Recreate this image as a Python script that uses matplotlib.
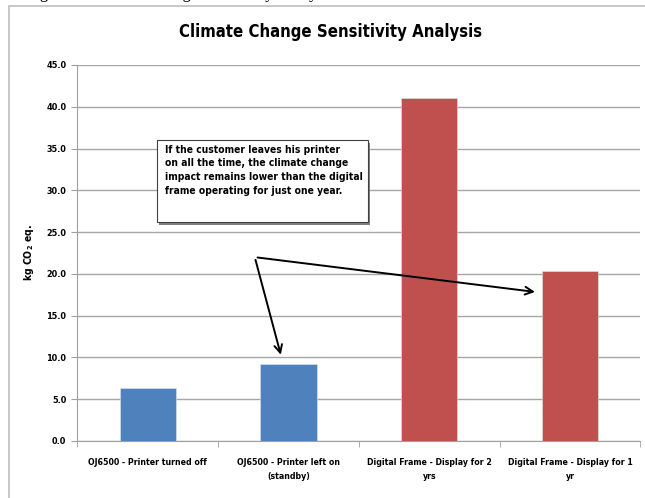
import matplotlib
matplotlib.use('Agg')
import matplotlib.pyplot as plt
from matplotlib.patches import Rectangle

plt.rcParams['font.family'] = ['DejaVu Sans']
plt.rcParams['font.stretch'] = 'condensed'
plt.rcParams['font.weight'] = 'bold'

categories = ['OJ6500 - Printer turned off',
              'OJ6500 - Printer left on\n(standby)',
              'Digital Frame - Display for 2\nyrs',
              'Digital Frame - Display for 1\nyr']
values = [6.3, 9.2, 41.0, 20.4]
colors = ['#4f81bd', '#4f81bd', '#c0504d', '#c0504d']
yticks = [0, 5, 10, 15, 20, 25, 30, 35, 40, 45]
note = ('If the customer leaves his printer\n'
        'on all the time, the climate change\n'
        'impact remains lower than the digital\n'
        'frame operating for just one year.')

fig = plt.figure(figsize=(6.45, 4.98), dpi=100)
ax = fig.add_axes([0.120, 0.1145, 0.873, 0.755])

# outer chart frame
fig.patches.append(Rectangle((9 / 645, -0.01), 0.995 - 9 / 645 + 0.01, 1 - 6 / 498 + 0.01,
                             transform=fig.transFigure, fill=False,
                             edgecolor='#bfbfbf', linewidth=1.2, zorder=0))

# caption line above the frame, only its lower edge shows
fig.text(0.04, 1.004, 'Figure 6: Climate Change Sensitivity Analysis', family='Liberation Serif',
         fontweight='normal', fontstretch='normal', fontsize=12, va='baseline', ha='left')

x = range(len(values))
ax.bar(x, values, width=0.4, color=colors, edgecolor='#dce6f2', linewidth=0.4, zorder=3)

ax.set_xlim(-0.5, len(values) - 0.5)
ax.set_ylim(0, 45)
ax.set_yticks(yticks)
ax.set_yticklabels([f'{v:.1f}' for v in yticks], fontsize=6.5, fontweight='bold')
ax.set_xticks(list(x))
ax.set_xticklabels(categories, fontsize=6.3, fontweight='bold', linespacing=1.8)
ax.set_xticks([i + 0.5 for i in range(-1, len(values))], minor=True)
ax.tick_params(axis='x', which='major', length=0, pad=12)
ax.tick_params(axis='x', which='minor', length=4, color='#a0a0a0')
ax.tick_params(axis='y', length=4, color='#a0a0a0', pad=4)

ax.grid(axis='y', color='#a6a6a6', linewidth=1, zorder=0)
ax.set_axisbelow(True)
for s in ['top', 'right']:
    ax.spines[s].set_visible(False)
for s in ['left', 'bottom']:
    ax.spines[s].set_color('#a0a0a0')

ax.set_ylabel('kg CO$_2$ eq.', fontsize=7.5, fontweight='bold', labelpad=7)
fig.text(0.512, 0.935, 'Climate Change Sensitivity Analysis', ha='center', va='center',
         fontsize=12, fontweight='bold')

# callout box with arrows
ax.add_patch(Rectangle((0.078, 25.9), 1.5, 9.8, facecolor='#7f7f7f', edgecolor='none', zorder=5))
ax.add_patch(Rectangle((0.065, 26.2), 1.5, 9.8, facecolor='white', edgecolor='#404040',
                       linewidth=0.8, zorder=6))
ax.text(0.12, 35.45, note, fontsize=7.4, fontweight='bold', va='top', ha='left',
        linespacing=1.45, zorder=7)

origin = (0.76, 22.0)
ax.annotate('', xy=(0.95, values[1] + 0.8), xytext=origin,
            arrowprops=dict(arrowstyle='->', color='black', lw=1.4, mutation_scale=14), zorder=8)
ax.annotate('', xy=(2.77, values[3] - 2.6), xytext=origin,
            arrowprops=dict(arrowstyle='->', color='black', lw=1.4, mutation_scale=14), zorder=8)

fig.savefig('out.png', dpi=100)
